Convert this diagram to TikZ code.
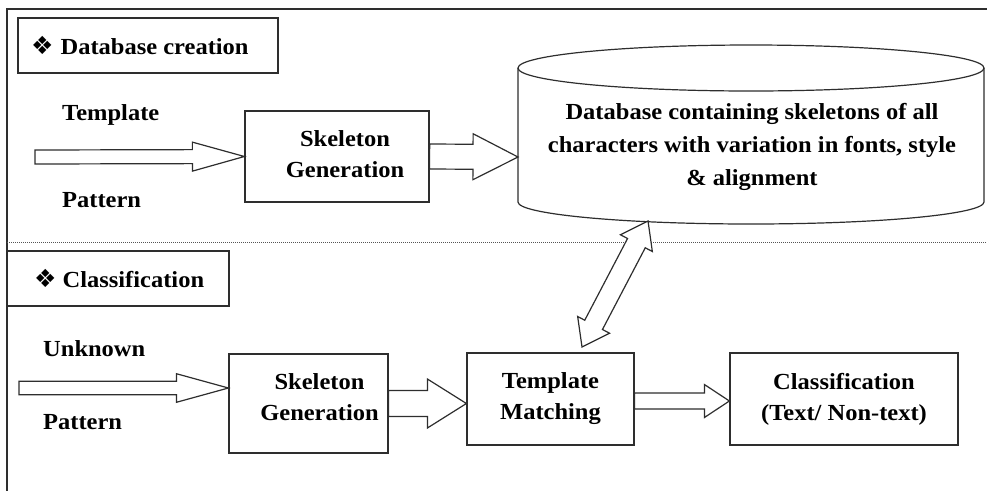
\documentclass[tikz,border=0pt]{standalone}
\usepackage{fontspec}
\setmainfont{Liberation Serif}[FakeStretch=1.065]
\newfontfamily\symf{DejaVu Sans}
\usetikzlibrary{calc}
\definecolor{linec}{HTML}{2E2E2E}
\definecolor{dotc}{HTML}{555555}
\tikzset{
 box/.style={draw=linec, line width=1.2pt, fill=white, inner sep=0pt},
 lbl/.style={font=\fontsize{23}{31}\selectfont\bfseries, align=center, inner sep=0pt, text=black},
 side/.style={font=\fontsize{23}{23}\selectfont\bfseries, inner sep=0pt, anchor=base west, text=black},
 blk/.style={draw=linec, line width=1.2pt, fill=white, line join=miter},
 barrow/.style n args={3}{
   to path={($(\tikztostart)!#1!90:(\tikztotarget)$)
     -- ($(\tikztotarget)!#3!(\tikztostart)!#1!90:(\tikztotarget)$)
     -- ($(\tikztotarget)!#3!(\tikztostart)!#2!90:(\tikztotarget)$)
     -- (\tikztotarget)
     -- ($(\tikztotarget)!#3!(\tikztostart)!#2!-90:(\tikztotarget)$)
     -- ($(\tikztotarget)!#3!(\tikztostart)!#1!-90:(\tikztotarget)$)
     -- ($(\tikztostart)!#1!-90:(\tikztotarget)$) -- cycle}},
 dbarrow/.style n args={3}{
   to path={(\tikztostart)
     -- ($(\tikztostart)!#3!(\tikztotarget)!#2!90:(\tikztotarget)$)
     -- ($(\tikztostart)!#3!(\tikztotarget)!#1!90:(\tikztotarget)$)
     -- ($(\tikztotarget)!#3!(\tikztostart)!#1!90:(\tikztotarget)$)
     -- ($(\tikztotarget)!#3!(\tikztostart)!#2!90:(\tikztotarget)$)
     -- (\tikztotarget)
     -- ($(\tikztotarget)!#3!(\tikztostart)!#2!-90:(\tikztotarget)$)
     -- ($(\tikztotarget)!#3!(\tikztostart)!#1!-90:(\tikztotarget)$)
     -- ($(\tikztostart)!#3!(\tikztotarget)!#1!-90:(\tikztotarget)$)
     -- ($(\tikztostart)!#3!(\tikztotarget)!#2!-90:(\tikztotarget)$)
     -- cycle}},
}
\begin{document}
\begin{tikzpicture}[x=1pt,y=-1pt]
\useasboundingbox (0,0) rectangle (987,491);
% frame and separator
\draw[linec, line width=1.4pt] (987,9) -- (7,9) -- (7,491);
\draw[dotc, line width=1.1pt, dash pattern=on 1pt off 1pt] (7,242.5) -- (987,242.5);
% headers
\node[box, minimum width=260pt, minimum height=55pt] (hdr1) at (148,45.5) {};
\node[side] (hdr1t) at (31,54) {{\symf\fontsize{25}{25}\selectfont ❖}\hspace{7pt}Database creation};
\node[box, minimum width=222pt, minimum height=55pt] (hdr2) at (118,278.5) {};
\node[side] (hdr2t) at (34,287) {{\symf\fontsize{25}{25}\selectfont ❖}\hspace{6pt}Classification};
% side labels
\node[side] (tpl) at (62,120) {Template};
\node[side] (pat1) at (62,207) {Pattern};
\node[side] (unk) at (43,356) {Unknown};
\node[side] (pat2) at (43,429) {Pattern};
% database cylinder
\draw[linec, line width=1.2pt, fill=white] (518,68) -- (518,202) arc[start angle=180, end angle=0, x radius=233, y radius=22] -- (984,68);
\draw[linec, line width=1.2pt] (751,68) ellipse[x radius=233, y radius=23];
\node[lbl, font=\fontsize{23}{33}\selectfont\bfseries] (dbt) at (752,147) {Database containing skeletons of all\\characters with variation in fonts, style\\\& alignment};
\coordinate (dbw) at (518,157);
\coordinate (dbb) at (648,221);
% boxes
\node[box, minimum width=184pt, minimum height=91pt] (sk1) at (337,156.5) {};
\node[lbl] (sk1t) at (345,154) {Skeleton\\Generation};
\node[box, minimum width=159pt, minimum height=99pt] (sk2) at (308.5,403.5) {};
\node[lbl] (sk2t) at (319.5,397) {Skeleton\\Generation};
\node[box, lbl, draw=linec, fill=white, minimum width=167pt, minimum height=92pt] (tm) at (550.5,399) {Template\\Matching};
\node[box, lbl, draw=linec, fill=white, minimum width=228pt, minimum height=92pt] (cl) at (844,399) {Classification\\(Text/ Non-text)};
% connectors
\coordinate (in1) at (35,157);
\coordinate (in2) at (19,388);
\coordinate (sk2in) at ($(sk2.west)+(0,-15.5)$);
\coordinate (tmt) at (582,347);
\draw[blk] (in1) to[barrow={7pt}{14.5pt}{52pt}] (sk1.west);
\draw[blk] (sk1.east) to[barrow={12.5pt}{23pt}{45pt}] (dbw);
\draw[blk] (in2) to[barrow={6.7pt}{14.3pt}{52pt}] (sk2in);
\draw[blk] (sk2.east) to[barrow={13pt}{24.5pt}{39pt}] (tm.west |- sk2.east);
\draw[blk] ($(tm.east)+(0,2)$) to[barrow={8pt}{16.5pt}{25pt}] ($(cl.west)+(0,2)$);
\draw[blk] (tmt) to[dbarrow={10pt}{18pt}{25pt}] (dbb);
\end{tikzpicture}
\end{document}
